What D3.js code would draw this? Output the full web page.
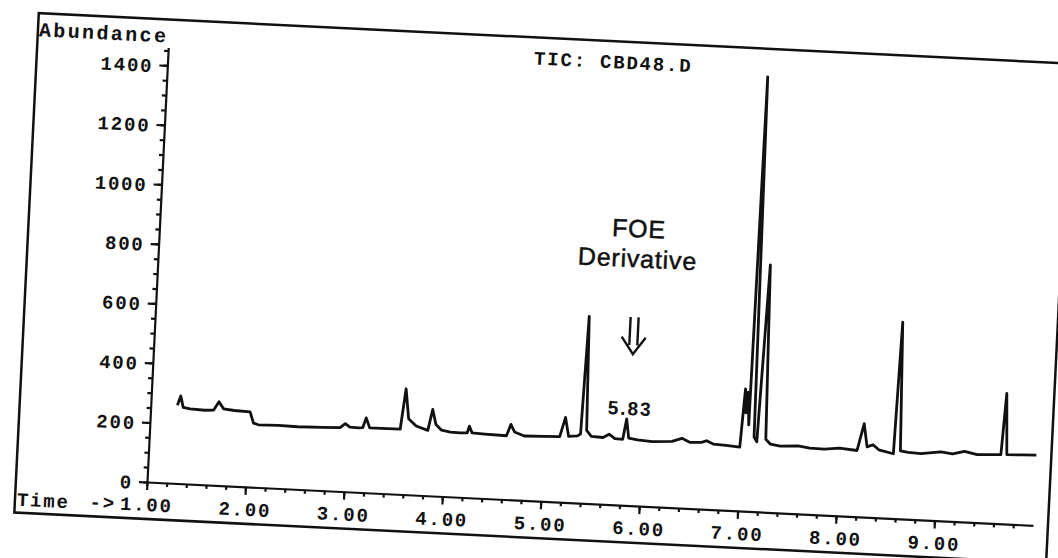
<!DOCTYPE html>
<html>
<head>
<meta charset="utf-8">
<script src="https://cdn.jsdelivr.net/npm/d3@7"></script>
<style>
  body { margin: 0; background: #fff; }
  svg { display: block; }
</style>
</head>
<body>
<div id="chart"></div>
<script>
// TIC trace: retention time (min) and abundance
const retentionTimes = [
  1.27, 1.30, 1.33, 1.40, 1.55, 1.64, 1.69, 1.74, 1.85, 2.01,
  2.05, 2.10, 2.30, 2.50, 2.75, 2.93, 2.98, 3.03, 3.12, 3.16,
  3.19, 3.23, 3.35, 3.54, 3.58, 3.62, 3.70, 3.82, 3.86, 3.90,
  3.96, 4.05, 4.15, 4.22, 4.24, 4.27, 4.40, 4.62, 4.66, 4.70,
  4.80, 5.00, 5.16, 5.21, 5.25, 5.34, 5.37, 5.40, 5.43, 5.48,
  5.60, 5.66, 5.72, 5.80, 5.83, 5.86, 5.95, 6.10, 6.30, 6.40,
  6.48, 6.60, 6.65, 6.72, 6.85, 6.99, 7.02, 7.035, 7.05, 7.07,
  7.09, 7.13, 7.16, 7.21, 7.25, 7.30, 7.40, 7.58, 7.70, 7.85,
  8.00, 8.18, 8.24, 8.28, 8.34, 8.40, 8.55, 8.58, 8.62, 8.70,
  8.83, 9.03, 9.15, 9.27, 9.40, 9.55, 9.64, 9.67, 9.70, 9.85,
  10.0
];
const abundance = [
  262, 294, 256, 252, 250, 252, 281, 258, 254, 252,
  215, 210, 211, 210, 212, 214, 228, 217, 216, 218,
  251, 218, 218, 219, 355, 255, 232, 219, 290, 240,
  222, 217, 216, 217, 240, 218, 216, 214, 253, 228,
  216, 218, 220, 285, 222, 225, 232, 628, 245, 226,
  224, 236, 222, 221, 290, 226, 222, 218, 222, 234,
  222, 224, 230, 220, 218, 214, 410, 330, 400, 290,
  1460, 250, 235, 830, 245, 229, 224, 228, 222, 221,
  227, 222, 313, 236, 244, 228, 217, 660, 228, 224,
  222, 231, 226, 237, 228, 230, 232, 438, 233, 234,
  236
];

const xMajorTicks = [1, 2, 3, 4, 5, 6, 7, 8, 9];
const xMinorTicks = d3.range(1, 9.9, 0.2);
const yMajorTicks = [0, 200, 400, 600, 800, 1000, 1200, 1400];
const yMinorTicks = d3.range(0, 1451, 50);

const chartTitle = "TIC: CBD48.D";
const markedPeakTime = 5.83;
const markedPeakAbundance = 290;
const annotationLines = ["FOE", "Derivative"];

const width = 1058,
  height = 558,
  plotWidth = 887,
  plotHeight = 435,
  tilt = 2.8,
  labelBaseline = 29,
  ink = "#111",
  monoFont = "'Liberation Mono', 'DejaVu Sans Mono', monospace",
  sansFont = "'Liberation Sans', Arial, sans-serif";

const x = d3.scaleLinear().domain([1, 10]).range([0, plotWidth]);
const y = d3.scaleLinear().domain([0, 1460]).range([0, -plotHeight]);

const svg = d3
  .select("#chart")
  .append("svg")
  .attr("width", width)
  .attr("height", height);

svg.append("rect").attr("width", width).attr("height", height).attr("fill", "#fff");

// the page was scanned a little crooked, so the whole plot is turned a bit
const page = svg
  .append("g")
  .attr("transform", `translate(147, 482) rotate(${tilt})`);

// outer frame
page
  .append("rect")
  .attr("x", -131)
  .attr("y", -463)
  .attr("width", 1033)
  .attr("height", 500)
  .attr("fill", "none")
  .attr("stroke", ink)
  .attr("stroke-width", 2.5);

// d3's axis resets the font on its group, so restyle after the call
const styleAxisText = (g) =>
  g
    .attr("font-family", monoFont)
    .attr("font-size", 19)
    .attr("font-weight", "bold")
    .attr("color", ink);

// x axis, small ticks first then the labelled ones
page
  .append("g")
  .attr("color", ink)
  .call(d3.axisBottom(x).tickValues(xMinorTicks).tickSize(4).tickSizeOuter(0).tickFormat(""))
  .call((g) => g.selectAll("path, line").attr("stroke-width", 2.2));

const xMajor = page
  .append("g")
  .call(d3.axisBottom(x).tickValues(xMajorTicks).tickSize(8).tickSizeOuter(0).tickFormat(d3.format(".2f")))
  .call(styleAxisText);
xMajor.select(".domain").remove();
xMajor.selectAll("line").attr("stroke-width", 2.2);
xMajor.selectAll("text").attr("y", labelBaseline).attr("dy", 0).attr("letter-spacing", 1.8);

// y axis
page
  .append("g")
  .attr("color", ink)
  .call(d3.axisLeft(y).tickValues(yMinorTicks).tickSize(4).tickSizeOuter(0).tickFormat(""))
  .call((g) => g.selectAll("path, line").attr("stroke-width", 2.2));

const yMajor = page
  .append("g")
  .call(d3.axisLeft(y).tickValues(yMajorTicks).tickSize(8).tickSizeOuter(0).tickFormat(d3.format("d")))
  .call(styleAxisText);
yMajor.select(".domain").remove();
yMajor.selectAll("line").attr("stroke-width", 2.2);
yMajor.selectAll("text").attr("x", -14).attr("dy", "0.36em").attr("letter-spacing", 1.8);

// the chromatogram itself
const line = d3
  .line()
  .x((d) => x(d[0]))
  .y((d) => y(d[1]));

page
  .append("path")
  .datum(d3.zip(retentionTimes, abundance))
  .attr("fill", "none")
  .attr("stroke", ink)
  .attr("stroke-width", 2.8)
  .attr("stroke-linejoin", "round")
  .attr("d", line);

// frame texts
const monoText = (txt, u, v, anchor) =>
  page
    .append("text")
    .attr("x", u)
    .attr("y", v)
    .attr("text-anchor", anchor)
    .attr("font-family", monoFont)
    .attr("font-size", 19)
    .attr("font-weight", "bold")
    .attr("letter-spacing", 1.8)
    .attr("fill", ink)
    .text(txt);

monoText("Abundance", -130, -440, "start").attr("font-size", 20).attr("letter-spacing", 2.4);
monoText(chartTitle, 366, -436, "start");
monoText("Time", -129, labelBaseline + 1, "start");
monoText("->", -30, labelBaseline, "end");

// annotation over the 5.83 peak
const px = x(markedPeakTime) + 3,
  py = y(markedPeakAbundance);

page
  .append("text")
  .attr("x", px)
  .attr("y", py - 4)
  .attr("text-anchor", "middle")
  .attr("font-family", sansFont)
  .attr("font-size", 19)
  .attr("font-weight", "bold")
  .attr("letter-spacing", 2)
  .attr("fill", ink)
  .text(markedPeakTime.toFixed(2));

page
  .selectAll("text.note")
  .data(annotationLines)
  .enter()
  .append("text")
  .attr("class", "note")
  .attr("x", px)
  .attr("y", (d, i) => py - 182 + i * 30)
  .attr("text-anchor", "middle")
  .attr("font-family", sansFont)
  .attr("font-size", 25)
  .attr("letter-spacing", 0.8)
  .attr("fill", ink)
  .attr("stroke", ink)
  .attr("stroke-width", 0.5)
  .text((d) => d);

// double down arrow
const arrowTop = py - 102,
  arrowBottom = py - 65;
page
  .append("path")
  .attr("fill", "none")
  .attr("stroke", ink)
  .attr("stroke-width", 2.4)
  .attr("stroke-linejoin", "miter")
  .attr(
    "d",
    `M${px - 4},${arrowTop}V${arrowBottom - 9}M${px + 4},${arrowTop}V${arrowBottom - 9}` +
      `M${px - 12},${arrowBottom - 17}L${px},${arrowBottom}L${px + 12},${arrowBottom - 17}`
  );
</script>
</body>
</html>
